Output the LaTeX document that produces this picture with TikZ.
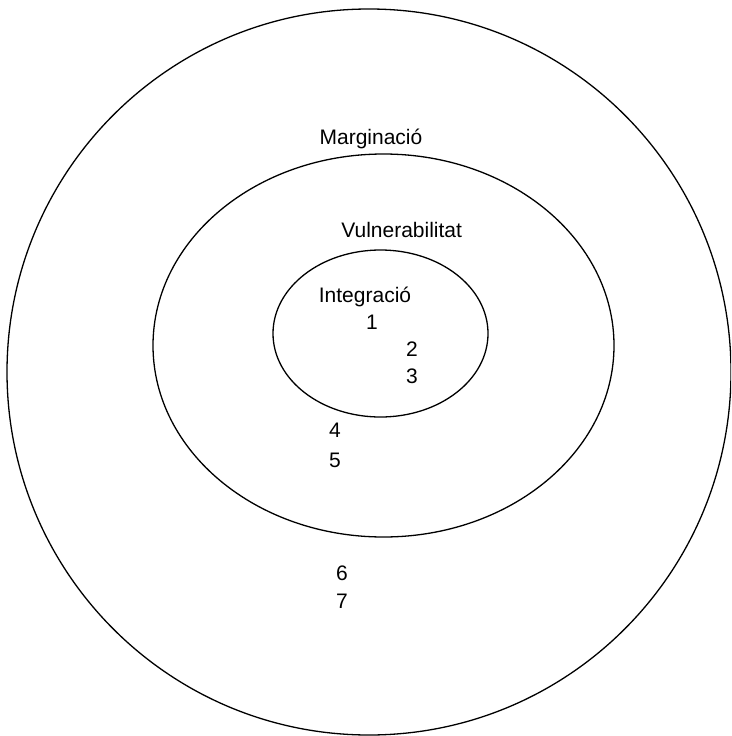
\documentclass[tikz,border=0pt]{standalone}
\usepackage{fontspec}
\setmainfont{Liberation Sans}
\usepackage{tikz}
\usetikzlibrary{shapes.geometric}

\begin{document}
\begin{tikzpicture}[x=1pt, y=-1pt, line width=1.3pt,
    every node/.style={font=\fontsize{21}{25}\selectfont, inner sep=0pt},
    ring/.style={draw, ellipse, line width=1.3pt}]
  \useasboundingbox (0,0) rectangle (731,736);
  \clip (0,0) rectangle (731,736);
  % rings
  \node[ring, minimum width=724pt, minimum height=726pt] (marg) at (369,372) {};
  \node[ring, minimum width=461pt, minimum height=383pt] (vuln) at (383.5,345.5) {};
  \node[ring, minimum width=215pt, minimum height=167pt] (integ) at (380.5,333.5) {};
  % labels
  \node[anchor=base] (lmarg) at (371,144) {Marginació};
  \node[anchor=base] (lvuln) at (401.7,237) {Vulnerabilitat};
  \node[anchor=base] (linteg) at (365,302) {Integració};
  \node[anchor=base] (n1) at (372,329) {1};
  \node[anchor=base] (n2) at (412,356) {2};
  \node[anchor=base] (n3) at (412,383) {3};
  \node[anchor=base] (n4) at (335,437) {4};
  \node[anchor=base] (n5) at (335,467) {5};
  \node[anchor=base] (n6) at (342,580) {6};
  \node[anchor=base] (n7) at (342,608) {7};
\end{tikzpicture}
\end{document}
